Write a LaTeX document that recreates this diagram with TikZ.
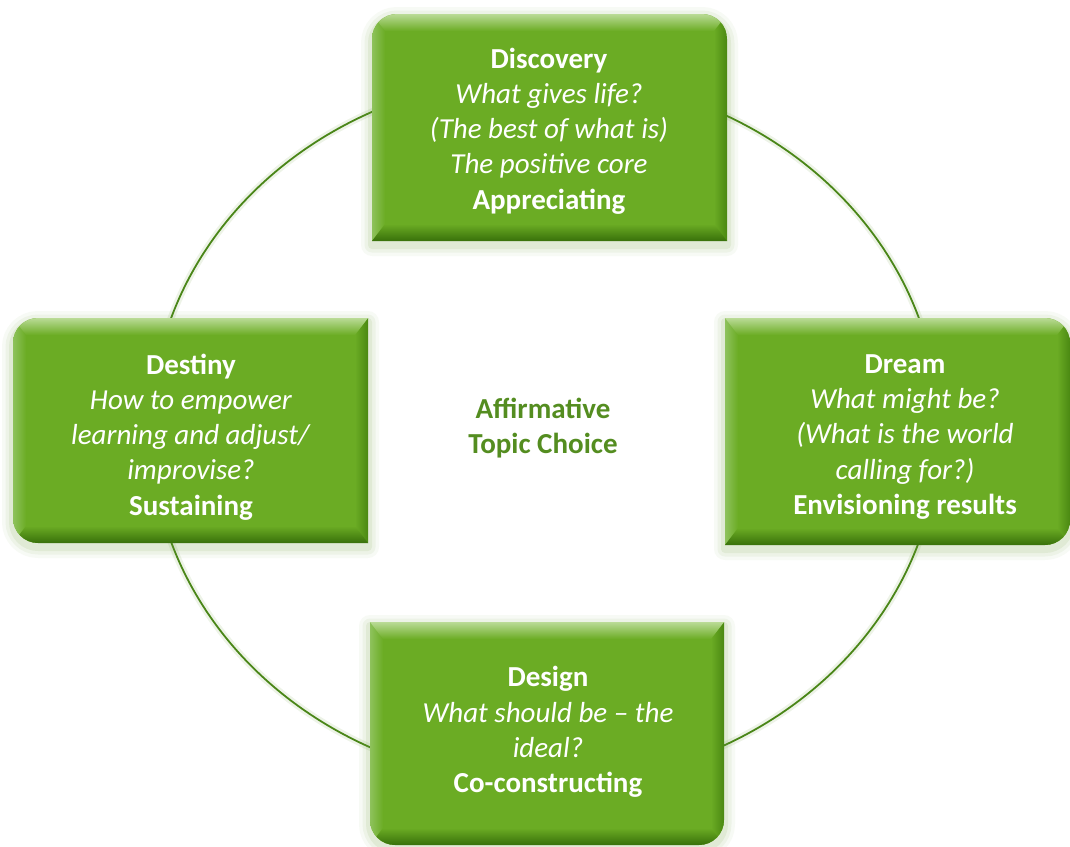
\documentclass[tikz,border=0pt]{standalone}
\usepackage{fontspec}
\setmainfont{Carlito}
\definecolor{bvBase}{RGB}{107,172,36}
\definecolor{bvTop}{RGB}{186,219,150}
\definecolor{bvLeft}{RGB}{142,194,92}
\definecolor{bvBot}{RGB}{56,112,10}
\definecolor{bvRight}{RGB}{74,136,18}
\definecolor{glowc}{RGB}{110,160,60}
\definecolor{ringc}{RGB}{74,134,24}
\definecolor{centerc}{RGB}{84,141,32}
\newcommand\bevelstrips[4]{%
  \shade[left color=bvLeft, right color=bvBase] (#1,#2) -- (#1+13,#2+15) -- (#1+13,#4-15) -- (#1,#4) -- cycle;
  \shade[left color=bvBase, right color=bvRight] (#3,#2) -- (#3-13,#2+15) -- (#3-13,#4-15) -- (#3,#4) -- cycle;
  \shade[top color=bvTop, bottom color=bvBase] (#1,#2) -- (#3,#2) -- (#3-13,#2+17) -- (#1+13,#2+17) -- cycle;
  \shade[top color=bvBase, bottom color=bvBot] (#1,#4) -- (#3,#4) -- (#3-13,#4-17) -- (#1+13,#4-17) -- cycle;
}
\begin{document}
\begin{tikzpicture}[x=1pt,y=-1pt,
  discpath/.style={insert path={(372,241) -- (372,39) arc(180:270:25) -- (702,14) arc(270:360:25) -- (727,241) -- cycle}},
  destpath/.style={insert path={(368,318) -- (38,318) arc(270:180:25) -- (13,518) arc(180:90:25) -- (368,543) -- cycle}},
  dreampath/.style={insert path={(725,318) -- (1045,318) arc(270:360:25) -- (1070,520) arc(0:90:25) -- (725,545) -- cycle}},
  despath/.style={insert path={(370,622) -- (724,622) -- (724,820) arc(0:90:25) -- (395,845) arc(90:180:25) -- cycle}},
  glow/.style={draw=glowc, line join=round},
  boxtext/.style={text=white, align=center, font=\fontsize{29}{35.2}\selectfont, inner sep=0pt},
  centertext/.style={text=centerc, align=center, font=\fontsize{29}{35.2}\selectfont\bfseries, inner sep=0pt}
]
\useasboundingbox (0,0) rectangle (1070,846);
\fill[white] (0,0) rectangle (1070,846);
% ring
\draw[glowc, opacity=0.12, line width=7pt] (545,430) ellipse [x radius=394, y radius=354];
\draw[ringc, line width=1.8pt] (545,430) ellipse [x radius=394, y radius=354];
% glows
\begin{scope}[yshift=-4pt]
\foreach \p in {discpath,destpath,dreampath,despath}{
  \path[glow, line width=22pt, opacity=0.05, \p];
  \path[glow, line width=15pt, opacity=0.07, \p];
  \path[glow, line width=8pt, opacity=0.10, \p];
}
\end{scope}
% boxes
\begin{scope}\clip[discpath]; \fill[bvBase] (372,14) rectangle (727,241); \bevelstrips{372}{14}{727}{241}\end{scope}
\begin{scope}\clip[destpath]; \fill[bvBase] (13,318) rectangle (368,543); \bevelstrips{13}{318}{368}{543}\end{scope}
\begin{scope}\clip[dreampath]; \fill[bvBase] (725,318) rectangle (1070,545); \bevelstrips{725}{318}{1070}{545}\end{scope}
\begin{scope}\clip[despath]; \fill[bvBase] (370,622) rectangle (724,845); \bevelstrips{370}{622}{724}{845}\end{scope}
% texts
\node[boxtext] (disc) at (549,131) {\textbf{Discovery}\\\textit{What gives life?}\\\textit{(The best of what is)}\\\textit{The positive core}\\\textbf{Appreciating}};
\node[boxtext] (dest) at (191,437) {\textbf{Destiny}\\\textit{How to empower}\\\textit{learning and adjust/}\\\textit{improvise?}\\\textbf{Sustaining}};
\node[boxtext] (dream) at (905,437) {\textbf{Dream}\\\textit{What might be?}\\\textit{(What is the world}\\\textit{calling for?)}\\\textbf{Envisioning results}};
\node[boxtext] (design) at (548,732) {\textbf{Design}\\\textit{What should be -- the}\\\textit{ideal?}\\\textbf{Co-constructing}};
\node[centertext] (center) at (543,428) {Affirmative\\Topic Choice};
\end{tikzpicture}
\end{document}
